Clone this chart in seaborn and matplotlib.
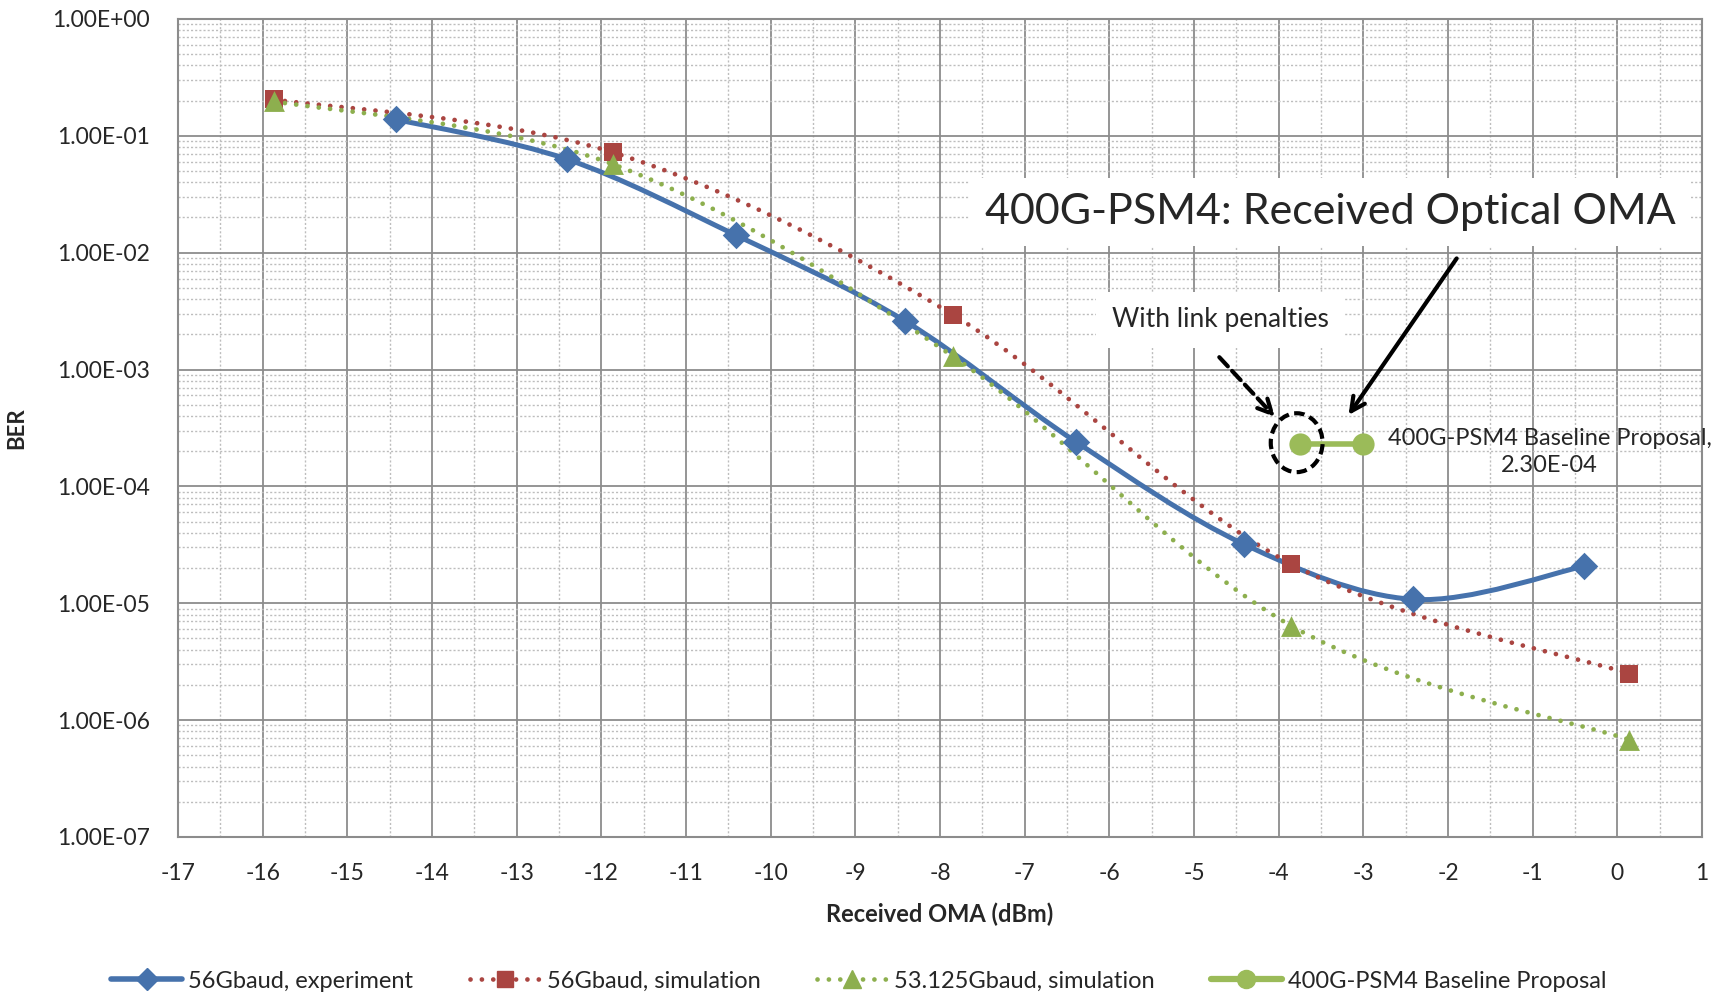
import numpy as np
import matplotlib
matplotlib.use('Agg')
import matplotlib.pyplot as plt
from matplotlib.path import Path
from matplotlib.patches import PathPatch, Ellipse
from matplotlib.lines import Line2D
from matplotlib.ticker import FuncFormatter, LogLocator, MultipleLocator, NullFormatter
import seaborn as sns

sns.set_style('white')
plt.rcParams['font.family'] = ['Lato', 'DejaVu Sans']

# Data
exp_x = [-14.42, -12.41, -10.41, -8.41, -6.40, -4.41, -2.41, -0.40]
exp_ber = [0.138, 0.0632, 0.0141, 0.00259, 2.42e-4, 3.2e-5, 1.08e-5, 2.07e-5]

sim56_x = [-15.87, -11.86, -7.85, -3.85, 0.14]
sim56_ber = [0.205, 0.072, 2.95e-3, 2.16e-5, 2.5e-6]

sim53_x = [-15.87, -11.86, -7.85, -3.85, 0.14]
sim53_ber = [0.198, 0.057, 1.3e-3, 6.4e-6, 6.8e-7]

base_x = [-3.75, -3.0]
base_ber = [2.3e-4, 2.3e-4]

x_ticks = list(range(-17, 2))

blue = '#4672AC'
red = '#AA4541'
green = '#8DAF4E'
green_b = '#9BBB59'


def smooth_path(xs, ys):
    # Excel-style smoothed line: Catmull-Rom -> cubic Bezier in (x, log y) space
    px = np.asarray(xs, float)
    py = np.log10(ys)
    verts = [(px[0], py[0])]
    codes = [Path.MOVETO]
    n = len(px)
    for i in range(n - 1):
        i0 = max(i - 1, 0)
        i3 = min(i + 2, n - 1)
        c1 = (px[i] + (px[i + 1] - px[i0]) / 6, py[i] + (py[i + 1] - py[i0]) / 6)
        c2 = (px[i + 1] - (px[i3] - px[i]) / 6, py[i + 1] - (py[i3] - py[i]) / 6)
        verts += [c1, c2, (px[i + 1], py[i + 1])]
        codes += [Path.CURVE4] * 3
    verts = [(vx, 10 ** vy) for vx, vy in verts]
    return Path(verts, codes)


fig = plt.figure(figsize=(17.28, 9.97), dpi=100)
ax = fig.add_axes([0.103, 0.1605, 0.882, 0.8205])
ax.set_yscale('log')
ax.set_xlim(-17, 1)
ax.set_ylim(1e-7, 1)

dotted = (0, (0.01, 2.4))
ax.add_patch(PathPatch(smooth_path(exp_x, exp_ber), fill=False, ec=blue, lw=3.6, zorder=3))
ax.add_patch(PathPatch(smooth_path(sim56_x, sim56_ber), fill=False, ec=red, lw=3.4,
                       ls=dotted, capstyle='round', zorder=3))
ax.add_patch(PathPatch(smooth_path(sim53_x, sim53_ber), fill=False, ec=green, lw=3.4,
                       ls=dotted, capstyle='round', zorder=3))

sns.scatterplot(x=exp_x, y=exp_ber, marker='D', s=14 ** 2, color=blue, edgecolor=blue,
                linewidth=0, ax=ax, zorder=4)
sns.scatterplot(x=sim56_x, y=sim56_ber, marker='s', s=13.5 ** 2, color=red, edgecolor=red,
                linewidth=0, ax=ax, zorder=4)
sns.scatterplot(x=sim53_x, y=sim53_ber, marker='^', s=15 ** 2, color=green, edgecolor=green,
                linewidth=0, ax=ax, zorder=5)
sns.lineplot(x=base_x, y=base_ber, color=green_b, lw=4, marker='o', markersize=16,
             markeredgewidth=0, ax=ax, zorder=5)

# Axes styling
ax.xaxis.set_major_locator(MultipleLocator(1))
ax.xaxis.set_minor_locator(MultipleLocator(0.5))
ax.yaxis.set_major_locator(LogLocator(base=10, numticks=20))
ax.yaxis.set_minor_locator(LogLocator(base=10, subs=np.arange(2, 10), numticks=20))
ax.yaxis.set_minor_formatter(NullFormatter())
ax.yaxis.set_major_formatter(FuncFormatter(lambda v, p: f'{v:.2E}'))
ax.set_xticks(x_ticks)
ax.set_xticklabels([str(t) for t in x_ticks])
ax.grid(which='major', color='#8C8C8C', lw=1.3, ls='-')
ax.grid(which='minor', color='#BDBDBD', lw=1.0, ls=(0, (1.5, 1.5)))
ax.set_axisbelow(True)
for s in ax.spines.values():
    s.set_color('#8C8C8C')
    s.set_linewidth(1.5)
ax.tick_params(which='both', length=0)
ax.tick_params(axis='y', labelsize=16.5, pad=20)
ax.tick_params(axis='x', labelsize=16.5, pad=19)
ax.set_xlabel('Received OMA (dBm)', fontsize=17, fontweight='bold', labelpad=13)
ax.set_ylabel('BER', fontsize=16, fontweight='bold', labelpad=18)

# Annotations
ax.text(0.756, 0.764, '400G-PSM4: Received Optical OMA', transform=ax.transAxes,
        fontsize=31, ha='center', va='center', zorder=6,
        bbox=dict(boxstyle='square,pad=0.35', fc='white', ec='none'))
ax.text(0.684, 0.632, 'With link penalties', transform=ax.transAxes,
        fontsize=19, ha='center', va='center', zorder=6,
        bbox=dict(boxstyle='square,pad=0.6', fc='white', ec='none'))
ax.annotate('', xy=(0.767, 0.513), xytext=(0.840, 0.710), xycoords='axes fraction',
            arrowprops=dict(arrowstyle='->,head_length=1.0,head_width=0.5', color='black', lw=3.0),
            zorder=6)
ax.annotate('', xy=(0.721, 0.511), xytext=(0.682, 0.589), xycoords='axes fraction',
            arrowprops=dict(arrowstyle='->,head_length=1.0,head_width=0.5', color='black', lw=3.0,
                            ls=(0, (3, 1.5))),
            zorder=6)
ax.add_patch(Ellipse((0.734, 0.482), 0.034, 0.072, transform=ax.transAxes, fill=False,
                     ec='black', lw=3.0, ls=(0, (2.5, 1.3)), zorder=6))
ax.text(0.900, 0.471, '400G-PSM4 Baseline Proposal,\n2.30E-04', transform=ax.transAxes,
        fontsize=17, ha='center', va='center', multialignment='center', zorder=6,
        linespacing=1.35)

# Legend
handles = [
    Line2D([], [], color=blue, lw=4, marker='D', markersize=11),
    Line2D([], [], color=red, lw=3.4, ls=dotted, dash_capstyle='round', marker='s', markersize=12),
    Line2D([], [], color=green, lw=3.4, ls=dotted, dash_capstyle='round', marker='^', markersize=13),
    Line2D([], [], color=green_b, lw=4.5, marker='o', markersize=13),
]
labels = ['56Gbaud, experiment', '56Gbaud, simulation', '53.125Gbaud, simulation',
          '400G-PSM4 Baseline Proposal']
fig.legend(handles, labels, loc='center', bbox_to_anchor=(0.497, 0.016), ncol=4,
           frameon=False, fontsize=17, handlelength=3.0, handletextpad=0.25,
           columnspacing=2.4)

fig.savefig('out.png', dpi=100)
